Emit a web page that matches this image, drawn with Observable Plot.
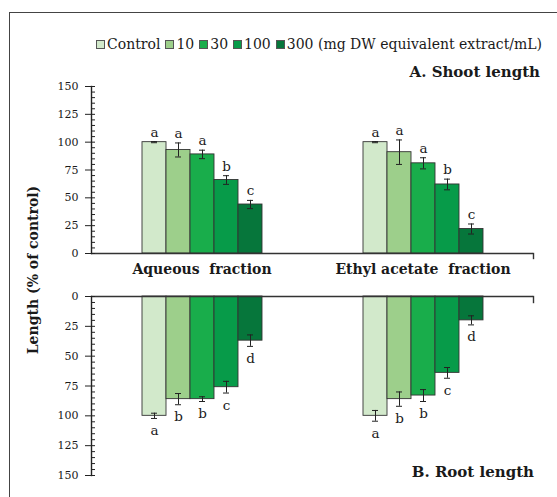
<!DOCTYPE html>
<html>
<head>
<meta charset="utf-8">
<script src="https://cdn.jsdelivr.net/npm/d3@7"></script>
<script src="https://cdn.jsdelivr.net/npm/@observablehq/plot@0.6"></script>
<style>
  html, body { margin: 0; padding: 0; background: #fff; }
  #fig { position: relative; width: 557px; height: 497px; overflow: hidden; font-family: "DejaVu Serif", serif; color: #1a1a1a; }
  #frame { position: absolute; left: 9px; top: 12px; right: -5px; bottom: -5px; border-top: 1.5px solid #444; border-left: 1.5px solid #444; }
  #legend { position: absolute; left: 96px; top: 36px; display: flex; align-items: center; font-size: 14px; white-space: pre; }
  #legend .item { display: flex; align-items: center; margin-right: 5px; }
  #legend .sw { width: 7px; height: 7px; border: 1px solid #555; margin-right: 2px; }
  .title { position: absolute; font-weight: bold; font-size: 15px; white-space: pre; }
  #ylabel { position: absolute; left: 33px; top: 270px; transform: translate(-50%, -50%) rotate(-90deg); font-weight: bold; font-size: 14px; white-space: pre; }
  .panel { position: absolute; left: 0; }
  .panel svg { white-space: pre; }
</style>
</head>
<body>
<div id="fig">
  <div id="frame"></div>
  <div id="legend"></div>
  <div class="title" id="titleA" style="right: 17px; top: 63px;">A. Shoot length</div>
  <div class="title" id="titleB" style="right: 23px; top: 463px;">B. Root length</div>
  <div id="ylabel">Length (% of control)</div>
  <div class="panel" id="shoot" style="top: 60px;"></div>
  <div class="panel" id="root" style="top: 285px;"></div>
</div>
<script>
// Treatments (extract concentration) and the two extract fractions
const treatments = ["Control", "10", "30", "100", "300"];
const legendLabels = ["Control", "10", "30", "100", "300 (mg DW equivalent extract/mL)"];
const fractions = ["Aqueous  fraction", "Ethyl acetate  fraction"];
const colors = ["#d2e9cb", "#9dcf8b", "#19ad4b", "#079b49", "#06763b"];
const yTicks = [0, 25, 50, 75, 100, 125, 150];

// Shoot length (% of control), standard errors and significance letters
const shootAqueous = [100, 93, 89, 66, 44];
const shootAqueousErr = [0.5, 6.3, 3.8, 3.9, 3.7];
const shootAqueousSig = ["a", "a", "a", "b", "c"];
const shootEthyl = [100, 91, 81, 62, 22];
const shootEthylErr = [0.5, 11, 5, 4.8, 4.5];
const shootEthylSig = ["a", "a", "a", "b", "c"];

// Root length (% of control), standard errors and significance letters
const rootAqueous = [100, 86, 86, 76, 37];
const rootAqueousErr = [2.2, 4.7, 2, 4.9, 4.8];
const rootAqueousSig = ["a", "b", "b", "c", "d"];
const rootEthyl = [100, 86, 83, 64, 20];
const rootEthylErr = [4.5, 6, 5, 4.5, 3.8];
const rootEthylSig = ["a", "b", "b", "c", "d"];

const rows = (fraction, values, errors, letters) =>
  treatments.map((t, i) => ({fraction, treatment: t, value: values[i], error: errors[i], letter: letters[i]}));

const shoot = [
  ...rows(fractions[0], shootAqueous, shootAqueousErr, shootAqueousSig),
  ...rows(fractions[1], shootEthyl, shootEthylErr, shootEthylSig)
];
const root = [
  ...rows(fractions[0], rootAqueous, rootAqueousErr, rootAqueousSig),
  ...rows(fractions[1], rootEthyl, rootEthylErr, rootEthylSig)
];

// Legend
const legend = document.getElementById("legend");
legendLabels.forEach((label, i) => {
  const item = document.createElement("div");
  item.className = "item";
  const sw = document.createElement("div");
  sw.className = "sw";
  sw.style.background = colors[i];
  item.appendChild(sw);
  item.appendChild(document.createTextNode(label));
  legend.appendChild(item);
});

const font = "DejaVu Serif";
const lo = d => d.value - d.error;
const hi = d => d.value + d.error;

function panel(data, {height, marginTop, marginBottom, reverse, groupAxis}) {
  const plotHeight = height - marginTop - marginBottom;
  // short tick hanging below the category axis at its right end
  const endTick = reverse
    ? {insetTop: 0, insetBottom: plotHeight - 6}
    : {insetTop: plotHeight, insetBottom: -5};
  return Plot.plot({
    width: 557,
    height,
    marginLeft: 90,
    marginRight: 24,
    marginTop,
    marginBottom,
    style: {fontFamily: font, fontSize: "11px", color: "#1a1a1a", background: "transparent", overflow: "visible"},
    fx: {domain: fractions, padding: 0, label: null},
    x: {domain: treatments, paddingInner: 0, paddingOuter: 1.95, axis: null},
    y: {domain: [0, 150], reverse, label: null},
    color: {domain: treatments, range: colors},
    marks: [
      Plot.barY(data, {fx: "fraction", x: "treatment", y: "value", fill: "treatment", stroke: "#333", strokeWidth: 0.9}),
      Plot.ruleX(data, {fx: "fraction", x: "treatment", y1: lo, y2: hi, stroke: "#222", strokeWidth: 1}),
      Plot.tickY(data, {fx: "fraction", x: "treatment", y: lo, stroke: "#222", insetLeft: 9, insetRight: 9}),
      Plot.tickY(data, {fx: "fraction", x: "treatment", y: hi, stroke: "#222", insetLeft: 9, insetRight: 9}),
      Plot.text(data, {
        fx: "fraction", x: "treatment", y: hi, text: "letter",
        lineAnchor: reverse ? "top" : "bottom", dy: reverse ? 7 : -5,
        fontSize: 13.5, fill: "#1a1a1a"
      }),
      Plot.ruleY([0], {stroke: "#333", strokeWidth: 1.4}),
      Plot.frame({anchor: "left", facetAnchor: "left", stroke: "#222", strokeWidth: 1.4}),
      Plot.frame({anchor: "right", facetAnchor: "right", stroke: "#333", strokeWidth: 1.4, ...endTick}),
      Plot.axisY({ticks: d3.range(0, 151, 5), tickSize: -4, tickFormat: () => "", label: null, stroke: "#222"}),
      Plot.axisY({ticks: yTicks, tickSize: 6, tickPadding: 7, label: null, stroke: "#222", fontSize: 11}),
      ...(groupAxis
        ? [Plot.axisFx({anchor: "bottom", tickSize: 0, tickPadding: 11, label: null, fontSize: 14, fontWeight: "bold"})]
        : [Plot.axisFx({ticks: [], label: null})])
    ]
  });
}

document.getElementById("shoot").appendChild(
  panel(shoot, {height: 225, marginTop: 26, marginBottom: 32, reverse: false, groupAxis: true})
);
document.getElementById("root").appendChild(
  panel(root, {height: 212, marginTop: 11, marginBottom: 22, reverse: true, groupAxis: false})
);
</script>
</body>
</html>
